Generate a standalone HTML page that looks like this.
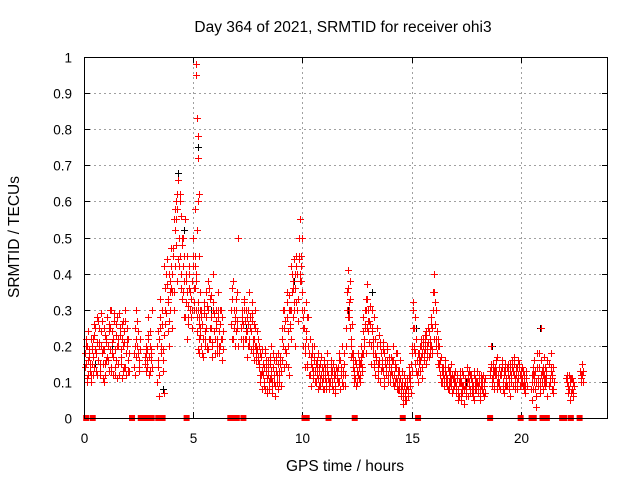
<!DOCTYPE html>
<html><head><meta charset="utf-8">
<style>
html,body{margin:0;padding:0;background:#fff;}
svg{display:block;font-family:"Liberation Sans",sans-serif;}
</style></head>
<body>
<svg id="chart" width="640" height="480" viewBox="0 0 640 480" xmlns="http://www.w3.org/2000/svg">
<text x="343" y="32" font-size="15.5" text-anchor="middle">Day 364 of 2021, SRMTID for receiver ohi3</text>
<text x="345" y="471" font-size="15.5" text-anchor="middle">GPS time / hours</text>
<text x="19" y="237" font-size="15.5" text-anchor="middle" transform="rotate(-90 19 237)">SRMTID / TECUs</text>
<g id="grid"></g>
<g id="ticks"></g>
<g id="marks"></g>
<rect x="84.5" y="57.5" width="523" height="361" fill="none" stroke="#000" stroke-width="1"/>
</svg>
<script>
const xTicks=[0,5,10,15,20];
const yTicks=[0,0.1,0.2,0.3,0.4,0.5,0.6,0.7,0.8,0.9,1];
const yTickLabels=["0","0.1","0.2","0.3","0.4","0.5","0.6","0.7","0.8","0.9","1"];
const hours=[0.05,0.1,0.15,0.2,0.25,0.3,0.35,0.4,0.45,0.5,0.55,0.6,0.65,0.7,0.75,0.8,0.85,0.9,0.95,1.0,
1.05,1.1,1.15,1.2,1.25,1.3,1.35,1.4,1.45,1.5,1.55,1.6,1.65,1.7,1.75,1.8,1.85,1.9,1.95,2.0,
2.05,2.3,2.35,2.4,2.45,2.5,2.55,2.8,2.85,2.9,2.95,3.0,3.05,3.1,
3.35,3.4,3.45,3.5,3.55,3.6,3.65,3.7,3.75,3.8,3.85,3.9,3.95,4.0,
4.05,4.1,4.15,4.2,4.25,4.3,4.35,4.4,4.45,4.5,4.55,4.6,4.65,4.7,4.75,4.8,4.85,4.9,4.95,5.0,
5.05,5.1,5.12,5.15,5.18,5.2,5.22,5.25,5.28,5.3,5.35,5.4,5.45,5.5,5.55,5.6,5.65,5.7,5.75,5.8,5.85,5.9,5.95,6.0,
6.05,6.1,6.15,6.2,6.25,6.3,6.35,6.75,6.8,6.85,6.9,6.95,7.05,7.0,
7.2,7.25,7.3,7.35,7.4,7.45,7.5,7.55,7.6,7.65,7.7,7.75,7.8,7.85,7.9,7.95,8.0,
8.05,8.1,8.15,8.2,8.25,8.3,8.35,8.4,8.45,8.5,8.55,8.6,8.65,8.7,8.75,8.8,8.85,8.9,8.95,9.0,
9.05,9.1,9.15,9.2,9.25,9.3,9.35,9.4,9.45,9.5,9.55,9.6,9.65,9.7,9.75,9.8,9.85,9.9,9.95,10.0,
10.05,10.1,10.15,10.2,10.25,10.3,10.35,10.4,10.45,10.5,10.55,10.6,10.65,10.7,10.75,10.8,10.85,10.9,10.95,11.0,
11.05,11.1,11.15,11.2,11.3,11.35,11.4,11.45,11.5,11.6,11.65,11.7,11.75,11.8,11.85,11.9,11.95,12.0,
12.05,12.1,12.15,12.2,12.25,12.3,12.35,12.4,12.45,12.5,12.55,12.6,12.65,12.7,12.75,12.8,12.85,12.9,12.95,13.0,
13.05,13.1,13.15,13.2,13.25,13.3,13.35,13.4,13.45,13.5,13.55,13.6,13.65,13.7,13.75,13.8,13.85,13.9,13.95,14.0,
14.05,14.1,14.15,14.2,14.25,14.3,14.35,14.4,14.45,14.5,14.55,14.6,14.65,14.7,14.75,14.8,14.85,14.9,14.95,15.0,
15.05,15.1,15.15,15.2,15.25,15.3,15.35,15.4,15.45,15.5,15.55,15.6,15.65,15.7,15.75,15.8,15.85,15.9,15.95,16.0,
16.05,16.1,16.15,16.2,16.25,16.3,16.35,16.4,16.45,16.5,16.55,16.6,16.65,16.7,16.75,16.8,16.85,16.9,16.95,17.0,
17.05,17.1,17.15,17.2,17.25,17.3,17.35,17.4,17.45,17.5,17.55,17.6,17.65,17.7,17.75,17.8,17.85,17.9,17.95,18.0,
18.05,18.1,18.15,18.2,18.25,18.3,18.35,18.6,18.65,18.7,18.75,18.8,18.85,18.9,18.95,19.0,
19.05,19.1,19.15,19.2,19.25,19.3,19.35,19.4,19.45,19.5,19.55,19.6,19.65,19.7,19.75,19.8,19.85,19.9,19.95,20.0,
20.05,20.1,20.15,20.2,20.25,20.5,20.55,20.6,20.65,20.7,20.75,20.8,20.85,20.9,20.95,21.0,
21.05,21.1,21.15,21.2,21.3,21.35,21.4,21.45,21.5,22.1,22.15,22.2,22.25,22.3,22.35,22.4,22.75,22.8,22.85];
const tecu=[.18,.15,.2,.12,.17,.1,.19,.22,.14,.25,.18,.12,.27,.21,.15,.24,.19,.1,.23,.16,
.28,.2,.13,.25,.3,.18,.22,.12,.26,.2,.15,.29,.23,.17,.11,.27,.21,.14,.25,.13,
.18,.14,.25,.3,.2,.16,.22,.15,.13,.19,.28,.2,.16,.14,
.1,.16,.22,.33,.26,.19,.07,.36,.29,.44,.24,.4,.3,.47,
.35,.55,.42,.6,.38,.66,.5,.45,.56,.33,.5,.28,.4,.22,.31,.42,.35,.28,.38,.5,
.36,.58,.98,.95,.83,.78,.72,.62,.45,.3,.2,.26,.17,.32,.22,.28,.19,.38,.25,.34,.21,.4,.29,.18,
.3,.22,.35,.2,.26,.16,.24,.3,.36,.25,.2,.33,.5,.27,
.22,.3,.26,.33,.24,.28,.2,.35,.25,.19,.29,.22,.16,.25,.18,.22,.14,
.18,.12,.08,.15,.1,.19,.13,.07,.16,.11,.2,.09,.14,.1,.06,.17,.12,.15,.1,.13,
.22,.3,.14,.27,.18,.35,.24,.12,.3,.42,.36,.44,.2,.32,.4,.27,.5,.55,.45,.35,
.25,.2,.32,.15,.28,.12,.22,.09,.18,.13,.2,.1,.16,.08,.14,.11,.17,.1,.13,.08,
.14,.1,.18,.08,.12,.09,.15,.11,.07,.13,.1,.18,.12,.2,.09,.15,.12,.25,
.35,.41,.28,.33,.2,.14,.1,.16,.09,.13,.18,.11,.15,.2,.13,.24,.3,.18,.37,.27,
.21,.31,.15,.25,.18,.28,.12,.2,.15,.23,.1,.18,.14,.21,.09,.16,.12,.19,.14,.1,
.17,.12,.2,.09,.15,.11,.18,.08,.13,.06,.1,.04,.12,.07,.05,.11,.08,.14,.1,.18,
.32,.25,.15,.22,.12,.1,.16,.13,.2,.11,.18,.23,.15,.2,.25,.17,.22,.28,.19,.35,
.4,.3,.24,.15,.2,.12,.17,.1,.14,.09,.16,.12,.08,.13,.1,.15,.07,.11,.09,.13,
.08,.12,.05,.1,.07,.13,.09,.04,.11,.08,.14,.06,.1,.12,.07,.09,.05,.11,.08,.13,
.07,.1,.05,.12,.09,.06,.11,.13,.2,.1,.15,.08,.13,.17,.1,.14,
.08,.12,.16,.1,.07,.13,.09,.15,.11,.06,.12,.14,.09,.17,.11,.13,.08,.16,.12,.1,
.14,.09,.12,.07,.11,.05,.12,.16,.08,.03,.18,.11,.14,.07,.25,.12,
.17,.09,.13,.06,.15,.1,.18,.12,.08,.1,.07,.12,.05,.11,.08,.06,.1,.15,.13];
const tecu2=[.2,.1,.16,.19,.13,.22,.15,.12,.26,.19,.28,.16,.2,.13,.29,.18,.11,.25,.15,.21,
.17,.24,.3,.14,.21,.12,.27,.19,.16,.28,.22,.12,.19,.26,.2,.14,.3,.18,.22,.16,
.13,.2,.17,.27,.24,.13,.19,.18,.16,.23,.12,.24,.19,.3,
.14,.06,.28,.2,.3,.13,.23,.3,.4,.33,.2,.35,.42,.25,
.45,.3,.58,.48,.62,.44,.6,.36,.5,.42,.38,.55,.32,.45,.26,.36,.3,.25,.45,.32,
.42,.3,.38,.52,.6,.32,.26,.22,.35,.25,.28,.18,.3,.24,.35,.2,.3,.22,.33,.28,.17,.3,.24,.27,
.2,.28,.18,.3,.22,.28,.19,.22,.38,.3,.27,.24,.2,.35,
.28,.2,.32,.22,.3,.17,.26,.22,.28,.32,.2,.26,.3,.2,.24,.16,.2,
.12,.17,.13,.09,.18,.14,.08,.12,.1,.17,.13,.07,.18,.12,.16,.1,.08,.13,.17,.09,
.16,.2,.25,.19,.32,.14,.3,.26,.22,.35,.28,.32,.4,.45,.3,.44,.38,.42,.5,.28,
.3,.14,.24,.28,.2,.18,.15,.2,.12,.16,.1,.15,.12,.18,.09,.15,.12,.08,.16,.11,
.09,.15,.12,.1,.16,.13,.08,.12,.14,.1,.16,.08,.14,.1,.13,.18,.09,.3,
.28,.3,.38,.22,.26,.18,.13,.11,.15,.1,.14,.12,.17,.14,.18,.2,.26,.33,.25,.3,
.27,.2,.24,.2,.14,.22,.17,.25,.11,.16,.2,.13,.19,.11,.16,.13,.2,.1,.17,.12,
.13,.16,.1,.14,.18,.08,.13,.1,.16,.09,.13,.07,.09,.05,.1,.06,.12,.09,.07,.13,
.25,.2,.28,.13,.18,.15,.2,.17,.14,.22,.16,.19,.24,.17,.21,.2,.26,.18,.3,.22,
.32,.22,.18,.2,.14,.16,.13,.12,.1,.14,.11,.09,.14,.1,.13,.09,.12,.1,.13,.07,
.11,.07,.1,.13,.05,.09,.12,.08,.06,.1,.12,.09,.07,.11,.1,.06,.12,.08,.1,.07,
.11,.06,.09,.08,.12,.1,.07,.15,.11,.13,.09,.12,.16,.08,.12,.09,
.12,.15,.1,.13,.09,.11,.14,.12,.08,.13,.1,.16,.12,.09,.14,.1,.12,.15,.09,.13,
.1,.13,.08,.11,.09,.12,.08,.1,.13,.06,.11,.14,.09,.16,.13,.08,
.12,.14,.1,.16,.11,.13,.08,.14,.1,.12,.09,.08,.11,.07,.1,.09,.12,.12,.1];
const tecu3=[.14,.22,.11,.24,.18,.15,.12,.2,.17,.23,.13,.21,.16,.25,.12,.2,.27,.15,.19,.12,
.22,.16,.26,.19,.13,.24,.17,.29,.14,.23,.11,.2,.25,.15,.22,.13,.24,.27,.12,.2,
.22,.18,.12,.22,.27,.18,.14,.17,.2,.14,.22,.17,.13,.18,
.2,.24,.12,.25,.18,.3,.16,.42,.26,.37,.32,.27,.38,.36,
.4,.47,.35,.52,.55,.58,.42,.62,.4,.48,.35,.45,.28,.38,.35,.28,.4,.33,.3,.42,
.3,.45,.36,.4,.28,.24,.3,.19,.28,.18,.23,.3,.22,.29,.2,.25,.31,.19,.36,.22,.25,.2,.32,.22,
.25,.18,.3,.24,.2,.3,.22,.26,.33,.22,.3,.28,.25,.3,
.25,.27,.22,.3,.27,.22,.24,.3,.2,.24,.27,.18,.22,.2,.16,.19,.17,
.15,.1,.19,.12,.14,.08,.16,.11,.14,.08,.15,.11,.1,.16,.09,.13,.1,.18,.12,.15,
.13,.25,.2,.3,.15,.28,.2,.34,.25,.3,.4,.38,.3,.36,.42,.33,.45,.4,.38,.3,
.2,.25,.18,.22,.14,.2,.12,.17,.14,.11,.17,.13,.1,.14,.11,.13,.09,.14,.11,.15,
.12,.08,.13,.11,.1,.14,.1,.13,.09,.11,.14,.1,.16,.13,.1,.12,.15,.2,
.3,.36,.32,.25,.17,.18,.16,.12,.11,.15,.12,.16,.1,.15,.18,.28,.22,.25,.3,.33,
.24,.26,.2,.3,.22,.15,.18,.16,.2,.13,.15,.21,.16,.13,.18,.15,.14,.16,.12,.15,
.1,.14,.16,.12,.1,.14,.1,.12,.08,.11,.07,.09,.06,.1,.08,.09,.06,.11,.12,.15,
.2,.3,.19,.18,.16,.13,.18,.16,.22,.18,.2,.17,.21,.23,.19,.24,.18,.2,.25,.3,
.35,.26,.2,.18,.22,.15,.1,.14,.12,.11,.13,.1,.11,.14,.08,.12,.11,.08,.12,.1,
.09,.11,.08,.06,.11,.1,.07,.12,.09,.06,.1,.11,.13,.08,.12,.09,.07,.13,.09,.1,
.09,.12,.08,.1,.11,.07,.09,.12,.14,.09,.11,.13,.14,.12,.1,.12,
.1,.13,.14,.08,.12,.15,.11,.09,.13,.1,.15,.1,.13,.15,.08,.12,.14,.11,.14,.12,
.12,.11,.1,.09,.13,.08,.1,.14,.12,.1,.14,.09,.18,.1,.12,.1,
.14,.1,.11,.12,.09,.1,.14,.11,.07,.11,.1,.09,.08,.1,.11,.07,.13,.11,.12];
const zeroHours=[0.1,0.4,2.2,2.6,2.85,3.1,3.4,3.6,4.7,6.7,6.8,6.9,7.0,7.3,10.1,10.2,11.2,12.4,14.6,15.3,18.6,20.0,20.5,20.6,21.0,21.2,21.9,22.0,22.3,22.7];
const blackHours=[0.5,1.3,3.6,4.3,4.6,5.2,5.8,7.4,8.7,9.6,12.1,13.2,14.2,15.2,16.1,17.5,18.7,20.9];
const blackTecu=[.15,.2,.08,.68,.52,.75,.3,.25,.1,.38,.3,.35,.12,.25,.3,.1,.2,.25];

const NS="http://www.w3.org/2000/svg";
const L=84,R=608,T=57,B=418;
function xs(h){return L+(h/24)*(R-L);}
function ys(v){return B-(v/1)*(B-T);}
const grid=document.getElementById('grid'),ticks=document.getElementById('ticks'),marks=document.getElementById('marks');
function mk(tag,attrs,parent){const e=document.createElementNS(NS,tag);for(const k in attrs)e.setAttribute(k,attrs[k]);parent.appendChild(e);return e;}
yTicks.forEach((v,i)=>{
  const y=Math.round(ys(v))+0.5;
  if(i>0&&i<yTicks.length-1){const g=mk('line',{x1:L,x2:R,y1:y,y2:y,stroke:'#a0a0a0','stroke-dasharray':'2,3','stroke-width':1},grid);
  
  }
  mk('line',{x1:L,x2:L+6,y1:y,y2:y,stroke:'#000'},ticks);
  mk('line',{x1:R-6,x2:R,y1:y,y2:y,stroke:'#000'},ticks);
  const t=mk('text',{x:L-12,y:y+5,'font-size':13.5,'text-anchor':'end'},ticks);
  t.textContent=yTickLabels[i];
  
  
});
xTicks.forEach(h=>{
  const x=Math.round(xs(h))+0.5;
  if(h>0){const g=mk('line',{x1:x,x2:x,y1:T,y2:B,stroke:'#a0a0a0','stroke-dasharray':'2,3'},grid);
  
  }
  mk('line',{x1:x,x2:x,y1:B-6,y2:B,stroke:'#000'},ticks);
  mk('line',{x1:x,x2:x,y1:T,y2:T+6,stroke:'#000'},ticks);
  const t=mk('text',{x:x,y:443,'font-size':13.5,'text-anchor':'middle'},ticks);
  t.textContent=String(h);
  
  
});
function cross(h,v,color,name){
  const x=Math.round(xs(h))+0.5,y=Math.round(ys(v))+0.5;
  const p=mk('path',{d:`M${x-3.5} ${y}H${x+3.5}M${x} ${y-3.5}V${y+3.5}`,stroke:color,'stroke-width':1,fill:'none'},marks);
  
  
}
blackHours.forEach((h,i)=>cross(h,blackTecu[i],'#000','point-black'));
hours.forEach((h,i)=>{
  cross(h,tecu[i],'#f00','point');
  if(i<tecu2.length)cross(h+0.025,tecu2[i],'#f00','point');
  if(i<tecu3.length)cross(h-0.02,tecu3[i],'#f00','point');
});
zeroHours.forEach(h=>{const x=xs(h);
  const r=mk('rect',{x:x-3,y:B-3,width:6,height:6,fill:'#f00'},marks);
  
  
});
</script>
</body></html>
